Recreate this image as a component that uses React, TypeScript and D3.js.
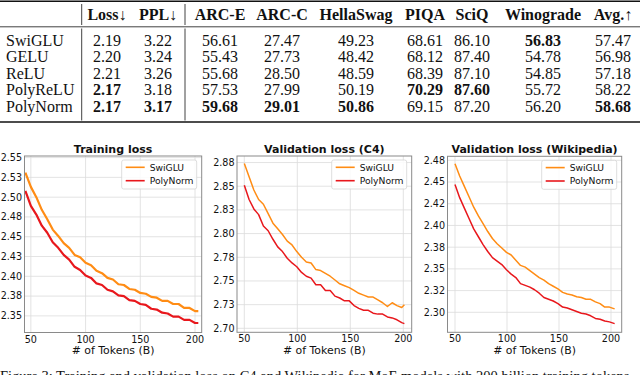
import React from 'react';
import * as d3 from 'd3';

// table
const methods = ['SwiGLU', 'GELU', 'ReLU', 'PolyReLU', 'PolyNorm'];
const metricNames = ['Loss↓', 'PPL↓', 'ARC-E', 'ARC-C', 'HellaSwag', 'PIQA', 'SciQ', 'Winograde', 'Avg.↑'];
const swigluRow = ['2.19', '3.22', '56.61', '27.47', '49.23', '68.61', '86.10', '56.83', '57.47'];
const geluRow = ['2.20', '3.24', '55.43', '27.73', '48.42', '68.12', '87.40', '54.78', '56.98'];
const reluRow = ['2.21', '3.26', '55.68', '28.50', '48.59', '68.39', '87.10', '54.85', '57.18'];
const polyReluRow = ['2.17', '3.18', '57.53', '27.99', '50.19', '70.29', '87.60', '55.72', '58.22'];
const polyNormRow = ['2.17', '3.17', '59.68', '29.01', '50.86', '69.15', '87.20', '56.20', '58.68'];
const tableRows = [swigluRow, geluRow, reluRow, polyReluRow, polyNormRow];
// [row, column] of the bold cells
const boldCells = [[0, 7], [3, 0], [3, 5], [3, 6], [4, 0], [4, 1], [4, 2], [4, 3], [4, 4], [4, 8]];

// training loss
const trainTokens = [45, 50, 55, 60, 65, 70, 75, 80, 85, 90, 95, 100, 105, 110, 115, 120, 125, 130, 135, 140, 145, 150, 155, 160, 165, 170, 175, 180, 185, 190, 195, 200, 203];
const trainSwiGLU = [2.531, 2.513, 2.500, 2.484, 2.472, 2.459, 2.451, 2.442, 2.436, 2.427, 2.424, 2.417, 2.414, 2.407, 2.404, 2.398, 2.396, 2.390, 2.389, 2.384, 2.383, 2.379, 2.378, 2.374, 2.373, 2.369, 2.369, 2.365, 2.365, 2.360, 2.360, 2.356, 2.356];
const trainPolyNorm = [2.508, 2.489, 2.478, 2.464, 2.455, 2.443, 2.436, 2.427, 2.421, 2.412, 2.408, 2.401, 2.398, 2.391, 2.389, 2.383, 2.381, 2.376, 2.375, 2.370, 2.369, 2.365, 2.364, 2.359, 2.358, 2.354, 2.353, 2.349, 2.349, 2.345, 2.345, 2.341, 2.341];
const trainTicks = [2.35, 2.375, 2.4, 2.425, 2.45, 2.475, 2.5, 2.525, 2.55];
const trainTickLabels = ['2.35', '2.38', '2.40', '2.43', '2.45', '2.48', '2.50', '2.53', '2.55'];

// validation loss (C4)
const c4Tokens = [50, 54.5, 59, 63.5, 68, 72.5, 77, 81.5, 86, 90.5, 95, 99.5, 104, 108.5, 113, 117.5, 122, 126.5, 131, 135.5, 140, 144.5, 149, 153.5, 158, 162.5, 167, 171.5, 176, 180.5, 185, 189.5, 194, 198.5, 201];
const c4SwiGLU = [2.874, 2.860, 2.846, 2.836, 2.831, 2.821, 2.811, 2.805, 2.799, 2.792, 2.788, 2.781, 2.775, 2.770, 2.769, 2.762, 2.761, 2.758, 2.755, 2.751, 2.747, 2.745, 2.743, 2.740, 2.737, 2.735, 2.733, 2.733, 2.730, 2.727, 2.723, 2.727, 2.724, 2.722, 2.725];
const c4PolyNorm = [2.851, 2.836, 2.826, 2.820, 2.808, 2.803, 2.794, 2.786, 2.781, 2.774, 2.769, 2.765, 2.759, 2.755, 2.753, 2.746, 2.746, 2.740, 2.740, 2.734, 2.732, 2.729, 2.729, 2.724, 2.721, 2.719, 2.719, 2.716, 2.715, 2.715, 2.712, 2.711, 2.709, 2.706, 2.705];
const c4Ticks = [2.7, 2.725, 2.75, 2.775, 2.8, 2.825, 2.85, 2.875];
const c4TickLabels = ['2.70', '2.73', '2.75', '2.78', '2.80', '2.83', '2.85', '2.88'];

// validation loss (Wikipedia)
const wikiTokens = [50, 54.5, 59, 63.5, 68, 72.5, 77, 81.5, 86, 90.5, 95, 99.5, 104, 108.5, 113, 117.5, 122, 126.5, 131, 135.5, 140, 144.5, 149, 153.5, 158, 162.5, 167, 171.5, 176, 180.5, 185, 189.5, 194, 198.5, 203.5];
const wikiSwiGLU = [2.471, 2.457, 2.445, 2.433, 2.421, 2.411, 2.402, 2.393, 2.385, 2.379, 2.374, 2.369, 2.366, 2.360, 2.354, 2.352, 2.348, 2.344, 2.340, 2.337, 2.333, 2.330, 2.327, 2.323, 2.321, 2.320, 2.318, 2.317, 2.315, 2.315, 2.312, 2.310, 2.306, 2.306, 2.304];
const wikiPolyNorm = [2.447, 2.432, 2.420, 2.408, 2.396, 2.387, 2.378, 2.370, 2.363, 2.359, 2.355, 2.349, 2.344, 2.340, 2.333, 2.331, 2.329, 2.326, 2.322, 2.317, 2.315, 2.313, 2.310, 2.306, 2.305, 2.303, 2.301, 2.299, 2.298, 2.296, 2.293, 2.292, 2.290, 2.289, 2.287];
const wikiTicks = [2.3, 2.325, 2.35, 2.375, 2.4, 2.425, 2.45, 2.475];
const wikiTickLabels = ['2.30', '2.32', '2.35', '2.38', '2.40', '2.42', '2.45', '2.48'];

const xTicks = [50, 100, 150, 200];
const seriesNames = ['SwiGLU', 'PolyNorm'];

const ORANGE = '#ff8c14';
const RED = '#e8171c';
const SANS = '"DejaVu Sans", sans-serif';
const SERIF = '"Liberation Serif", "Times New Roman", serif';

const colX = [107, 158, 220, 282, 356, 425, 472, 543, 613];

function ResultsTable() {
  const rowY = d3.scaleLinear().domain([0, 4]).range([45.5, 111.5]);
  const isBold = (r, c) => boldCells.some(([br, bc]) => br === r && bc === c);
  return (
    <g fontFamily={SERIF} fontSize={16} fill="#111">
      <line x1={0} x2={640} y1={1.2} y2={1.2} stroke="#111" strokeWidth={1.6} />
      <line x1={0} x2={640} y1={26.8} y2={26.8} stroke="#111" strokeWidth={0.8} />
      <line x1={0} x2={640} y1={122} y2={122} stroke="#111" strokeWidth={1.6} />
      {[81.7, 185].map(vx => (
        <g key={vx} stroke="#111" strokeWidth={0.8}>
          <line x1={vx} x2={vx} y1={4} y2={25} />
          <line x1={vx} x2={vx} y1={28.5} y2={120.5} />
        </g>
      ))}
      {metricNames.map((m, i) => (
        <text key={m} x={colX[i]} y={20} textAnchor="middle" fontWeight="bold">{m}</text>
      ))}
      {methods.map((m, r) => (
        <g key={m}>
          <text x={6} y={rowY(r)}>{m}</text>
          {tableRows[r].map((v, c) => (
            <text key={c} x={colX[c]} y={rowY(r)} textAnchor="middle"
              fontWeight={isBold(r, c) ? 'bold' : 'normal'}>{v}</text>
          ))}
        </g>
      ))}
    </g>
  );
}

function LossPanel({ title, box, xDomain, yDomain, yTicks, yTickLabels, tokens, swiglu, polynorm, lineWidth }) {
  const x = d3.scaleLinear().domain(xDomain).range([box.left, box.right]);
  const y = d3.scaleLinear().domain(yDomain).range([box.bottom, box.top]);
  const line = d3.line<number>().x((d, i) => x(tokens[i])).y(d => y(d));
  const lgW = 75;
  const lgH = 29;
  const lgX = box.right - 5 - lgW;
  const lgY = box.top + 4;
  return (
    <g fontFamily={SANS}>
      {xTicks.map(t => (
        <line key={'gx' + t} x1={x(t)} x2={x(t)} y1={box.top} y2={box.bottom} stroke="#dcdcdc" strokeWidth={0.8} />
      ))}
      {yTicks.map(t => (
        <line key={'gy' + t} x1={box.left} x2={box.right} y1={y(t)} y2={y(t)} stroke="#dcdcdc" strokeWidth={0.8} />
      ))}
      <path d={line(swiglu)} fill="none" stroke={ORANGE} strokeWidth={lineWidth} strokeLinejoin="round" />
      <path d={line(polynorm)} fill="none" stroke={RED} strokeWidth={lineWidth} strokeLinejoin="round" />
      <rect x={box.left} y={box.top} width={box.right - box.left} height={box.bottom - box.top}
        fill="none" stroke="#8a8a8a" strokeWidth={1} />
      {yTicks.map((t, i) => (
        <text key={'ly' + t} x={box.left - 2.5} y={y(t)} dy="0.35em" textAnchor="end" fontSize={9.6} fill="#111">{yTickLabels[i]}</text>
      ))}
      {xTicks.map(t => (
        <text key={'lx' + t} x={x(t)} y={box.bottom + 10} textAnchor="middle" fontSize={9.6} fill="#111">{t}</text>
      ))}
      <text x={(box.left + box.right) / 2} y={box.bottom + 21.5} textAnchor="middle" fontSize={10.9} fill="#111"># of Tokens (B)</text>
      <text x={(box.left + box.right) / 2} y={box.top - 3.5} textAnchor="middle" fontSize={11} fontWeight="bold" fill="#111">{title}</text>
      <rect x={lgX} y={lgY} width={lgW} height={lgH} rx={2} fill="#fff" fillOpacity={0.85} stroke="#d4d4d4" strokeWidth={0.8} />
      {seriesNames.map((s, i) => (
        <g key={s}>
          <line x1={lgX + 4} x2={lgX + 23} y1={lgY + 7.3 + i * 13.4} y2={lgY + 7.3 + i * 13.4}
            stroke={i === 0 ? ORANGE : RED} strokeWidth={1.6} />
          <text x={lgX + 28} y={lgY + 7.3 + i * 13.4} dy="0.35em" fontSize={9.2} fill="#111">{s}</text>
        </g>
      ))}
    </g>
  );
}

export default function App() {
  return (
    <div style={{ position: 'absolute', left: 0, top: 0 }}>
      <svg width={640} height={375} style={{ display: 'block', background: '#fff' }}>
        <ResultsTable />
        <LossPanel title="Training loss" box={{ left: 24.5, right: 201.7, top: 156, bottom: 332.5 }}
          xDomain={[44.2, 206.1]} yDomain={[2.329, 2.552]} yTicks={trainTicks} yTickLabels={trainTickLabels}
          tokens={trainTokens} swiglu={trainSwiGLU} polynorm={trainPolyNorm} lineWidth={2.2} />
        <LossPanel title="Validation loss (C4)" box={{ left: 237, right: 411.7, top: 156, bottom: 332.3 }}
          xDomain={[43.1, 207.9]} yDomain={[2.6958, 2.8819]} yTicks={c4Ticks} yTickLabels={c4TickLabels}
          tokens={c4Tokens} swiglu={c4SwiGLU} polynorm={c4PolyNorm} lineWidth={1.5} />
        <LossPanel title="Validation loss (Wikipedia)" box={{ left: 447.5, right: 621.7, top: 156.3, bottom: 332.3 }}
          xDomain={[42.8, 210.3]} yDomain={[2.277, 2.4796]} yTicks={wikiTicks} yTickLabels={wikiTickLabels}
          tokens={wikiTokens} swiglu={wikiSwiGLU} polynorm={wikiPolyNorm} lineWidth={1.5} />
        <text x={0} y={381.3} fontFamily={SERIF} fontSize={14.5} fill="#111">
          Figure 3: Training and validation loss on C4 and Wikipedia for MoE models with 200 billion training tokens.
        </text>
      </svg>
    </div>
  );
}
